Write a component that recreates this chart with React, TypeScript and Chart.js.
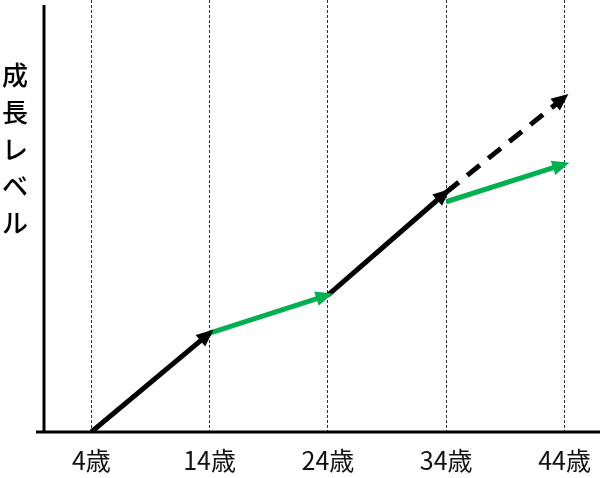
import { useEffect, useRef } from 'react';
import { Chart, registerables } from 'chart.js';

Chart.register(...registerables);

const ageTicks = [4, 14, 24, 34, 44];
const tickLabels = ['4歳', '14歳', '24歳', '34歳', '44歳'];
const mainAges = [4, 14, 24, 34];
const mainLevels = [0, 22.9, 31.7, 55.5];
const slowAges = [34, 44];
const slowLevels = [53.3, 62];
const fastAges = [34, 44];
const fastLevels = [55.5, 77.5];
const yTitleChars = ['成', '長', 'レ', 'ベ', 'ル'];

const BLACK = '#000000';
const GREEN = '#00b050';

const arrowPlugin = {
  id: 'arrows',
  afterDatasetsDraw(chart: any) {
    const ctx = chart.ctx;
    chart.data.datasets.forEach((ds: any, i: number) => {
      const meta = chart.getDatasetMeta(i);
      const pts = meta.data;
      if (pts.length < 2) return;
      const a = pts[pts.length - 2];
      const b = pts[pts.length - 1];
      const ang = Math.atan2(b.y - a.y, b.x - a.x);
      const ext = 5;
      const tx = b.x + Math.cos(ang) * ext;
      const ty = b.y + Math.sin(ang) * ext;
      const len = 17;
      const hw = 7.5;
      const bx = tx - Math.cos(ang) * len;
      const by = ty - Math.sin(ang) * len;
      ctx.save();
      ctx.fillStyle = ds.borderColor;
      ctx.beginPath();
      ctx.moveTo(tx, ty);
      ctx.lineTo(bx + Math.cos(ang + Math.PI / 2) * hw, by + Math.sin(ang + Math.PI / 2) * hw);
      ctx.lineTo(bx + Math.cos(ang - Math.PI / 2) * hw, by + Math.sin(ang - Math.PI / 2) * hw);
      ctx.closePath();
      ctx.fill();
      ctx.restore();
    });
  },
};

const framePlugin = {
  id: 'frame',
  afterDraw(chart: any) {
    const ctx = chart.ctx;
    const area = chart.chartArea;
    ctx.save();
    ctx.strokeStyle = '#000';
    ctx.lineWidth = 3;
    ctx.beginPath();
    ctx.moveTo(area.left, 5);
    ctx.lineTo(area.left, area.bottom + 1.5);
    ctx.moveTo(area.left - 8, area.bottom);
    ctx.lineTo(area.right, area.bottom);
    ctx.stroke();
    ctx.fillStyle = '#000';
    ctx.font = '500 26px "Noto Sans CJK JP"';
    ctx.textAlign = 'center';
    ctx.textBaseline = 'middle';
    yTitleChars.forEach((c, i) => {
      ctx.fillText(c, 15, 75 + i * 37);
    });
    ctx.restore();
  },
};

function seg(xs: number[], ys: number[], i: number) {
  return [
    { x: xs[i], y: ys[i] },
    { x: xs[i + 1], y: ys[i + 1] },
  ];
}

export default function App() {
  const ref = useRef<HTMLCanvasElement>(null);
  useEffect(() => {
    if (!ref.current) return;
    const datasets: any[] = [];
    for (let i = 0; i < mainAges.length - 1; i++) {
      datasets.push({
        data: seg(mainAges, mainLevels, i),
        borderColor: i % 2 === 0 ? BLACK : GREEN,
        borderWidth: 5,
        pointRadius: 0,
        showLine: true,
        borderCapStyle: 'butt',
      });
    }
    datasets.push({
      data: seg(slowAges, slowLevels, 0),
      borderColor: GREEN,
      borderWidth: 5,
      pointRadius: 0,
      showLine: true,
      borderCapStyle: 'butt',
    });
    datasets.push({
      data: seg(fastAges, fastLevels, 0),
      borderColor: BLACK,
      borderWidth: 5,
      borderDash: [16, 11],
      pointRadius: 0,
      showLine: true,
      borderCapStyle: 'butt',
    });
    const chart = new Chart(ref.current, {
      type: 'scatter',
      data: { datasets },
      plugins: [arrowPlugin, framePlugin],
      options: {
        responsive: false,
        animation: false,
        layout: { padding: 0 },
        plugins: { legend: { display: false }, tooltip: { enabled: false } },
        scales: {
          x: {
            type: 'linear',
            min: 0,
            max: 47,
            afterBuildTicks: (scale: any) => {
              scale.ticks = ageTicks.map((v) => ({ value: v }));
            },
            afterFit: (scale: any) => {
              scale.height = 46;
              scale.paddingLeft = 0;
              scale.paddingRight = 0;
            },
            grid: { color: '#333', lineWidth: 1, drawTicks: false },
            border: { display: false, dash: [3, 2] },
            ticks: {
              padding: 13,
              color: '#111',
              font: { family: '"Noto Sans CJK JP"', size: 25 },
              maxRotation: 0,
              autoSkip: false,
              callback: (v: any) => {
                const idx = ageTicks.indexOf(Number(v));
                return idx >= 0 ? tickLabels[idx] : '';
              },
            },
          },
          y: {
            type: 'linear',
            min: 0,
            max: 100,
            afterFit: (scale: any) => {
              scale.width = 44;
              scale.paddingTop = 0;
              scale.paddingBottom = 0;
            },
            grid: { display: false },
            border: { display: false },
            ticks: { display: false },
          },
        },
      },
    });
    return () => chart.destroy();
  }, []);
  return (
    <div style={{ position: 'absolute', left: 0, top: 0, width: 600, height: 478, background: '#fff' }}>
      <canvas ref={ref} width={600} height={478} />
    </div>
  );
}
